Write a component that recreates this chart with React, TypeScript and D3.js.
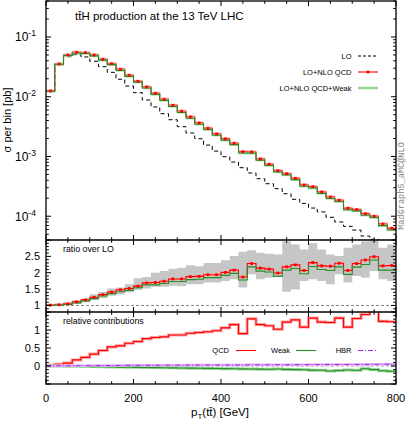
import React from 'react';
import * as d3 from 'd3';

const ptLow = [0, 20, 40, 60, 80, 100, 120, 140, 160, 180, 200, 220, 240, 260, 280, 300, 320, 340, 360, 380,
  400, 420, 440, 460, 480, 500, 520, 540, 560, 580, 600, 620, 640, 660, 680, 700, 720, 740, 760, 780];
const ptMax = 800;

const sigmaLO = [0.0124, 0.0344, 0.0468, 0.0505, 0.0463, 0.0392, 0.0318, 0.0256, 0.0196, 0.0151, 0.0117, 0.0088,
  0.00673, 0.0052, 0.00412, 0.00315, 0.00247, 0.00198, 0.00155, 0.00123, 0.00099, 0.000807, 0.000649, 0.000529,
  0.000425, 0.00035, 0.000289, 0.000238, 0.000192, 0.000164, 0.000137, 0.000118, 0.0000959, 0.00008, 0.0000677,
  0.0000587, 0.0000466, 0.000041, 0.000034, 0.000028];
const sigmaQCD = [0.0125, 0.0353, 0.0499, 0.0553, 0.0546, 0.0499, 0.0423, 0.0357, 0.0288, 0.0228, 0.0181, 0.01455,
  0.0114, 0.00906, 0.00718, 0.0057, 0.00458, 0.00363, 0.00296, 0.00238, 0.00197, 0.00166, 0.0012, 0.00119,
  0.000908, 0.00074, 0.000578, 0.000515, 0.000431, 0.000333, 0.000312, 0.000254, 0.00021, 0.000185, 0.000136,
  0.000129, 0.00011, 0.0000997, 0.0000741, 0.0000628];
const sigmaQCDWeak = [0.0124, 0.035, 0.049, 0.0538, 0.0532, 0.0483, 0.041, 0.0344, 0.0276, 0.0219, 0.01753, 0.01403,
  0.01093, 0.0087, 0.00686, 0.00545, 0.00436, 0.00346, 0.00282, 0.00227, 0.00188, 0.00158, 0.00114, 0.001138,
  0.00087, 0.000708, 0.000549, 0.000491, 0.00041, 0.000317, 0.000296, 0.000241, 0.000198, 0.000176, 0.000128,
  0.000123, 0.000104, 0.0000957, 0.0000697, 0.0000588];

const ratioQCD = [1.01, 1.02, 1.05, 1.11, 1.17, 1.25, 1.33, 1.41, 1.48, 1.52, 1.59, 1.69, 1.7, 1.74, 1.81, 1.81, 1.88,
  1.89, 1.94, 1.94, 2.01, 2.08, 1.87, 2.28, 2.14, 2.11, 1.99, 2.18, 2.24, 2.07, 2.31, 2.21, 2.2, 2.29, 2.07, 2.28,
  2.39, 2.49, 2.21, 2.22];
const ratioQCDWeak = [1.0, 1.01, 1.03, 1.08, 1.14, 1.21, 1.29, 1.36, 1.42, 1.46, 1.54, 1.63, 1.63, 1.67, 1.73, 1.73,
  1.79, 1.8, 1.85, 1.85, 1.92, 1.98, 1.78, 2.18, 2.05, 2.02, 1.89, 2.08, 2.13, 1.97, 2.19, 2.1, 2.07, 2.18, 1.95,
  2.17, 2.25, 2.39, 2.08, 2.08];
const ratioBandLo = [0.98, 0.99, 1.01, 1.05, 1.1, 1.17, 1.22, 1.3, 1.34, 1.4, 1.47, 1.52, 1.57, 1.57, 1.6, 1.59,
  1.65, 1.65, 1.7, 1.7, 1.75, 1.8, 1.55, 1.95, 1.8, 1.85, 1.9, 1.42, 1.49, 1.75, 1.8, 1.75, 1.65, 1.95, 1.7, 1.9,
  1.85, 2.05, 1.8, 1.75];
const ratioBandHi = [1.03, 1.06, 1.1, 1.15, 1.21, 1.34, 1.41, 1.52, 1.55, 1.65, 1.83, 1.87, 2.0, 2.05, 2.12, 2.15,
  2.23, 2.2, 2.3, 2.3, 2.38, 2.51, 2.64, 2.69, 2.61, 2.58, 2.56, 2.96, 2.86, 2.71, 2.91, 2.71, 2.56, 2.51, 2.76,
  2.86, 2.96, 3.06, 2.76, 2.86];

const relQCD = [0.02, 0.05, 0.08, 0.17, 0.24, 0.33, 0.43, 0.53, 0.56, 0.63, 0.68, 0.76, 0.79, 0.81, 0.86, 0.86, 0.91,
  0.93, 0.95, 0.98, 1.06, 1.15, 0.9, 1.31, 1.15, 1.12, 1.02, 1.22, 1.28, 1.08, 1.33, 1.22, 1.21, 1.33, 1.08, 1.32,
  1.43, 1.6, 1.24, 1.23];
const relWeak = [0.0, -0.002, -0.005, -0.008, -0.012, -0.016, -0.02, -0.025, -0.03, -0.033, -0.037, -0.04, -0.045,
  -0.048, -0.052, -0.056, -0.06, -0.063, -0.067, -0.07, -0.073, -0.076, -0.08, -0.083, -0.087, -0.09, -0.085, -0.095,
  -0.1, -0.105, -0.115, -0.12, -0.14, -0.125, -0.11, -0.12, -0.075, -0.1, -0.13, -0.145];
const relHBR = [0.002, 0.004, 0.006, 0.008, 0.01, 0.012, 0.013, 0.015, 0.016, 0.018, 0.019, 0.02, 0.021, 0.022, 0.023,
  0.024, 0.025, 0.026, 0.027, 0.028, 0.029, 0.03, 0.031, 0.032, 0.033, 0.034, 0.035, 0.036, 0.037, 0.038, 0.039,
  0.04, 0.041, 0.042, 0.043, 0.044, 0.045, 0.046, 0.047, 0.048];

const xTickValues = [0, 200, 400, 600, 800];
const mainDecades = [1e-4, 1e-3, 1e-2, 1e-1];
const mainDecadeExp = ['-4', '-3', '-2', '-1'];
const ratioTickValues = [1, 1.5, 2, 2.5];
const relTickValues = [0, 0.5, 1];

const FONT = '"Liberation Sans", Arial, Helvetica, sans-serif';
const RED = '#ff0000';
const RED_BAND = '#ffa0a0';
const GREEN = '#2b8c2b';
const GREEN_BAND = '#96d896';
const PURPLE = '#a020f0';
const GRAY_BAND = '#c6c6c6';

const L = 46, R = 396;
const MAIN_T = 1, MAIN_B = 240, RAT_B = 312, REL_B = 384;

const x = d3.scaleLinear().domain([0, 800]).range([L, R]);
const yMain = d3.scaleLog().domain([4e-5, 0.4]).range([MAIN_B, MAIN_T]);
const yRat = d3.scaleLinear().domain([0.8, 3.0]).range([RAT_B, MAIN_B]);
const yRel = d3.scaleLinear().domain([-0.5, 1.5]).range([REL_B, RAT_B]);

function stepPts(vals: number[]): [number, number][] {
  const p: [number, number][] = vals.map((v, i) => [ptLow[i], v]);
  p.push([ptMax, vals[vals.length - 1]]);
  return p;
}

function stepPath(vals: number[], y: (v: number) => number) {
  return d3.line<[number, number]>()
    .x(d => x(d[0]))
    .y(d => y(d[1]))
    .curve(d3.curveStepAfter)(stepPts(vals)) || '';
}

function bandPath(lo: number[], hi: number[], y: (v: number) => number) {
  const pts = lo.map((v, i) => [ptLow[i], v, hi[i]] as [number, number, number]);
  pts.push([ptMax, lo[lo.length - 1], hi[hi.length - 1]]);
  return d3.area<[number, number, number]>()
    .x(d => x(d[0]))
    .y0(d => y(d[1]))
    .y1(d => y(d[2]))
    .curve(d3.curveStepAfter)(pts) || '';
}

const centers = ptLow.map(p => p + 10);

function XTicks({ top, bottom }: { top: number; bottom: number }) {
  const ticks: JSX.Element[] = [];
  for (let v = 0; v <= 800; v += 50) {
    const major = v % 200 === 0;
    const len = major ? 5 : 2.8;
    const xx = x(v);
    ticks.push(<line key={'b' + v} x1={xx} x2={xx} y1={bottom} y2={bottom - len} stroke="#000" strokeWidth={1} />);
    ticks.push(<line key={'t' + v} x1={xx} x2={xx} y1={top} y2={top + len} stroke="#000" strokeWidth={1} />);
  }
  return <g>{ticks}</g>;
}

function LinTicksY({ y, from, to, step, majorEvery }: { y: (v: number) => number; from: number; to: number; step: number; majorEvery: number }) {
  const ticks: JSX.Element[] = [];
  const n = Math.round((to - from) / step);
  for (let i = 0; i <= n; i++) {
    const v = from + i * step;
    const major = Math.abs(v / majorEvery - Math.round(v / majorEvery)) < 1e-6;
    const len = major ? 5 : 2.8;
    const yy = y(v);
    ticks.push(<line key={'l' + i} x1={L} x2={L + len} y1={yy} y2={yy} stroke="#000" strokeWidth={1} />);
    ticks.push(<line key={'r' + i} x1={R} x2={R - len} y1={yy} y2={yy} stroke="#000" strokeWidth={1} />);
  }
  return <g>{ticks}</g>;
}

function LogTicksY() {
  const ticks: JSX.Element[] = [];
  for (let e = -5; e <= 0; e++) {
    for (let m = 1; m <= 9; m++) {
      const v = m * Math.pow(10, e);
      if (v < 4e-5 * 0.999 || v > 0.4 * 1.001) continue;
      const yy = yMain(v);
      const len = m === 1 ? 5 : 2.8;
      ticks.push(<line key={`l${e}_${m}`} x1={L} x2={L + len} y1={yy} y2={yy} stroke="#000" strokeWidth={1} />);
      ticks.push(<line key={`r${e}_${m}`} x1={R} x2={R - len} y1={yy} y2={yy} stroke="#000" strokeWidth={1} />);
    }
  }
  return <g>{ticks}</g>;
}

export default function App() {
  const yR = (v: number) => yRat(v);
  const yL = (v: number) => yRel(v);
  const yM = (v: number) => yMain(v);

  const mainRedLo = sigmaQCD.map(v => v * 0.94);
  const mainRedHi = sigmaQCD.map(v => v * 1.06);
  const mainGrLo = sigmaQCDWeak.map(v => v * 0.95);
  const mainGrHi = sigmaQCDWeak.map(v => v * 1.05);

  return (
    <svg width={407} height={422} style={{ position: 'absolute', left: 0, top: 0, background: '#fff' }}
      fontFamily={FONT}>
      <defs>
        <clipPath id="cMain"><rect x={L} y={MAIN_T} width={R - L} height={MAIN_B - MAIN_T} /></clipPath>
        <clipPath id="cRat"><rect x={L} y={MAIN_B} width={R - L} height={RAT_B - MAIN_B} /></clipPath>
        <clipPath id="cRel"><rect x={L} y={RAT_B} width={R - L} height={REL_B - RAT_B} /></clipPath>
      </defs>
      <rect x={0} y={0} width={407} height={422} fill="#fff" />

      {/* Main panel */}
      <g clipPath="url(#cMain)">
        <path d={stepPath(sigmaLO, yM)} fill="none" stroke="#000" strokeWidth={1} strokeDasharray="4,3" />
        <path d={bandPath(mainRedLo, mainRedHi, yM)} fill={RED_BAND} opacity={0.8} />
        <path d={stepPath(sigmaQCD, yM)} fill="none" stroke={RED} strokeWidth={1.1} />
        <path d={bandPath(mainGrLo, mainGrHi, yM)} fill={GREEN_BAND} opacity={0.75} />
        <path d={stepPath(sigmaQCDWeak, yM)} fill="none" stroke={GREEN} strokeWidth={1.1} />
        {sigmaQCD.map((v, i) => (
          <rect key={i} x={x(centers[i]) - 1.4} y={yMain(v) - 1.4} width={2.8} height={2.8} fill={RED} />
        ))}
      </g>
      <text x={75} y={20} fontSize={11.5} fill="#000">tt̄H production at the 13 TeV LHC</text>

      {/* Legend main */}
      <g fontSize={7.5} fill="#000">
        <text x={351.5} y={58.5} textAnchor="end">LO</text>
        <line x1={358} x2={378} y1={56} y2={56} stroke="#000" strokeWidth={1} strokeDasharray="3,2" />
        <text x={351.5} y={74.5} textAnchor="end">LO+NLO QCD</text>
        <line x1={358} x2={378} y1={72} y2={72} stroke={RED} strokeWidth={1.1} />
        <rect x={366.6} y={70.6} width={2.8} height={2.8} fill={RED} />
        <text x={351.5} y={90.5} textAnchor="end">LO+NLO QCD+Weak</text>
        <line x1={358} x2={378} y1={88} y2={88} stroke={GREEN_BAND} strokeWidth={2.5} />
      </g>

      {/* Ratio panel */}
      <g clipPath="url(#cRat)">
        <path d={bandPath(ratioBandLo, ratioBandHi, yR)} fill={GRAY_BAND} />
        <line x1={L} x2={R} y1={yRat(1)} y2={yRat(1)} stroke="#666" strokeWidth={0.8} strokeDasharray="3,2" />
        <path d={bandPath(ratioQCD.map(v => v - 0.03), ratioQCD.map(v => v + 0.03), yR)} fill={RED_BAND} opacity={0.8} />
        <path d={stepPath(ratioQCD, yR)} fill="none" stroke={RED} strokeWidth={1.1} />
        <path d={bandPath(ratioQCDWeak.map(v => v - 0.02), ratioQCDWeak.map(v => v + 0.02), yR)} fill={GREEN_BAND} opacity={0.6} />
        <path d={stepPath(ratioQCDWeak, yR)} fill="none" stroke={GREEN} strokeWidth={1.1} />
        {ratioQCD.map((v, i) => (
          <rect key={i} x={x(centers[i]) - 1.4} y={yRat(v) - 1.4} width={2.8} height={2.8} fill={RED} />
        ))}
      </g>
      <text x={63} y={251.5} fontSize={8.8} fill="#000">ratio over LO</text>

      {/* Relative contributions panel */}
      <g clipPath="url(#cRel)">
        <line x1={L} x2={R} y1={yRel(0)} y2={yRel(0)} stroke="#888" strokeWidth={0.8} strokeDasharray="3,2" />
        <path d={stepPath(relQCD, yL)} fill="none" stroke={RED_BAND} strokeWidth={3} />
        <path d={stepPath(relQCD, yL)} fill="none" stroke={RED} strokeWidth={1.1} />
        <path d={stepPath(relWeak, yL)} fill="none" stroke={GREEN_BAND} strokeWidth={3} />
        <path d={stepPath(relWeak, yL)} fill="none" stroke={GREEN} strokeWidth={1.1} />
        <path d={stepPath(relHBR, yL)} fill="none" stroke="#e2b0f5" strokeWidth={2.5} />
        <path d={stepPath(relHBR, yL)} fill="none" stroke={PURPLE} strokeWidth={1} strokeDasharray="5,2,1,2" />
      </g>
      <text x={63} y={324} fontSize={8.8} fill="#000">relative contributions</text>
      <g fontSize={7.5} fill="#000">
        <text x={229} y={353} textAnchor="end">QCD</text>
        <line x1={236} x2={256} y1={350.5} y2={350.5} stroke={RED} strokeWidth={1.1} />
        <text x={290} y={353} textAnchor="end">Weak</text>
        <line x1={296} x2={316} y1={350.5} y2={350.5} stroke={GREEN} strokeWidth={1.1} />
        <text x={351.5} y={353} textAnchor="end">HBR</text>
        <line x1={358} x2={378} y1={350.5} y2={350.5} stroke={PURPLE} strokeWidth={1} strokeDasharray="5,2,1,2" />
      </g>

      {/* Ticks */}
      <LogTicksY />
      <LinTicksY y={yR} from={0.8} to={3.0} step={0.1} majorEvery={0.5} />
      <LinTicksY y={yL} from={-0.5} to={1.5} step={0.1} majorEvery={0.5} />
      <XTicks top={MAIN_T} bottom={MAIN_B} />
      <XTicks top={MAIN_B} bottom={RAT_B} />
      <XTicks top={RAT_B} bottom={REL_B} />

      {/* Frames */}
      <rect x={L} y={MAIN_T} width={R - L} height={REL_B - MAIN_T} fill="none" stroke="#000" strokeWidth={1.3} />
      <line x1={L} x2={R} y1={MAIN_B} y2={MAIN_B} stroke="#000" strokeWidth={1.3} />
      <line x1={L} x2={R} y1={RAT_B} y2={RAT_B} stroke="#000" strokeWidth={1.3} />

      {/* Y labels main */}
      <g fill="#000">
        {mainDecades.map((v, i) => (
          <text key={i} x={15} y={yMain(v) + 4.5} fontSize={12}>10<tspan fontSize={8.5} dy={-5}>{mainDecadeExp[i]}</tspan>
          </text>
        ))}
      </g>
      <g fontSize={11} fill="#000" textAnchor="end">
        {ratioTickValues.map((v, i) => (
          <text key={i} x={40} y={yRat(v) + 4}>{String(v)}</text>
        ))}
        {relTickValues.map((v, i) => (
          <text key={'r' + i} x={40} y={yRel(v) + 4}>{String(v)}</text>
        ))}
      </g>
      <g fontSize={11} fill="#000" textAnchor="middle">
        {xTickValues.map((v, i) => (
          <text key={i} x={x(v)} y={402}>{String(v)}</text>
        ))}
      </g>

      {/* Axis titles */}
      <text transform="translate(10.5,120) rotate(-90)" fontSize={11} textAnchor="middle" fill="#000">σ per bin [pb]</text>
      <text x={220} y={416} fontSize={11.5} textAnchor="middle" fill="#000">
        p<tspan fontSize={8} dy={3}>T</tspan><tspan dy={-3}>(tt̄) [GeV]</tspan>
      </text>
      <text transform="translate(404,186) rotate(-90)" fontSize={8.6} textAnchor="middle" fill="#888"
        fontFamily='"Liberation Mono", "DejaVu Sans Mono", monospace'>MadGraph5_aMC@NLO</text>
    </svg>
  );
}
